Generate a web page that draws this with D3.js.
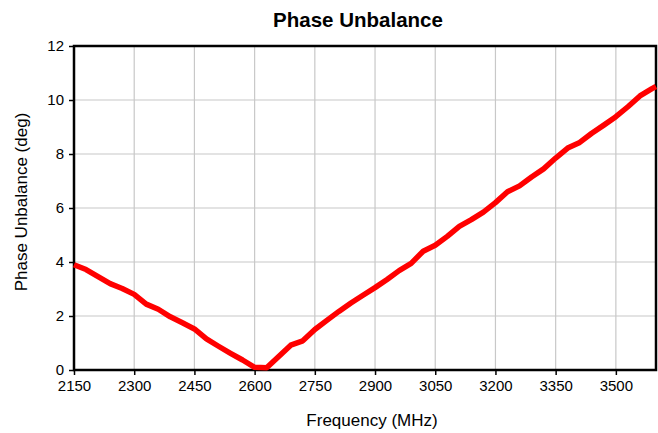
<!DOCTYPE html>
<html>
<head>
<meta charset="utf-8">
<script src="https://cdn.jsdelivr.net/npm/d3@7"></script>
<style>
  body { margin: 0; background: #fff; }
  svg { font-family: "Liberation Sans", Arial, sans-serif; }
</style>
</head>
<body>
<svg width="658" height="433"></svg>
<script>
var freqs = [2150, 2180, 2210, 2240, 2270, 2300, 2330, 2360, 2390, 2420,
             2450, 2480, 2510, 2540, 2570, 2600, 2630, 2660, 2690, 2720,
             2750, 2780, 2810, 2840, 2870, 2900, 2930, 2960, 2990, 3020,
             3050, 3080, 3110, 3140, 3170, 3200, 3230, 3260, 3290, 3320,
             3350, 3380, 3410, 3440, 3470, 3500, 3530, 3560, 3590, 3600];
var unbalance = [3.9, 3.72, 3.46, 3.2, 3.02, 2.8, 2.44, 2.25, 1.97, 1.75,
                 1.52, 1.15, 0.88, 0.62, 0.37, 0.1, 0.08, 0.5, 0.92, 1.08,
                 1.5, 1.84, 2.17, 2.48, 2.77, 3.05, 3.35, 3.68, 3.95, 4.4,
                 4.62, 4.95, 5.32, 5.57, 5.85, 6.2, 6.6, 6.82, 7.15, 7.45,
                 7.85, 8.22, 8.43, 8.77, 9.07, 9.38, 9.75, 10.15, 10.42, 10.5];
var xTicks = [2150, 2300, 2450, 2600, 2750, 2900, 3050, 3200, 3350, 3500];
var yTicks = [0, 2, 4, 6, 8, 10, 12];

var svg = d3.select("svg");
var plotLeft = 74, plotRight = 656, plotTop = 46, plotBottom = 370;

var x = d3.scaleLinear().domain([2150, 3600]).range([plotLeft, plotRight]);
var y = d3.scaleLinear().domain([0, 12]).range([plotBottom, plotTop]);

// grid
svg.append("g").selectAll("line").data(xTicks.slice(1)).enter().append("line")
    .attr("x1", function (d) { return x(d); })
    .attr("x2", function (d) { return x(d); })
    .attr("y1", plotTop).attr("y2", plotBottom)
    .attr("stroke", "#c8c8c8").attr("stroke-width", 1.2);
svg.append("g").selectAll("line").data(yTicks.slice(1)).enter().append("line")
    .attr("y1", function (d) { return y(d); })
    .attr("y2", function (d) { return y(d); })
    .attr("x1", plotLeft).attr("x2", plotRight)
    .attr("stroke", "#c8c8c8").attr("stroke-width", 1.2);

// axes
var xAxis = svg.append("g")
    .attr("transform", "translate(0," + plotBottom + ")")
    .call(d3.axisBottom(x).tickValues(xTicks).tickSize(5).tickPadding(5).tickFormat(d3.format("d")));
var yAxis = svg.append("g")
    .attr("transform", "translate(" + plotLeft + ",0)")
    .call(d3.axisLeft(y).tickValues(yTicks).tickSize(5).tickPadding(5));
[xAxis, yAxis].forEach(function (a) {
    a.select(".domain").remove();
    a.selectAll("line").attr("stroke", "#000").attr("stroke-width", 1.5);
    a.selectAll("text").attr("font-size", 15).attr("fill", "#000")
        .attr("font-family", "Liberation Sans, Arial, sans-serif");
});

// frame
svg.append("rect")
    .attr("x", plotLeft).attr("y", plotTop)
    .attr("width", plotRight - plotLeft).attr("height", plotBottom - plotTop)
    .attr("fill", "none").attr("stroke", "#000").attr("stroke-width", 2.5);

// line
var line = d3.line()
    .x(function (d, i) { return x(freqs[i]); })
    .y(function (d) { return y(d); });
svg.append("path")
    .datum(unbalance)
    .attr("d", line)
    .attr("fill", "none")
    .attr("stroke", "#ff0000")
    .attr("stroke-width", 5.5)
    .attr("stroke-linejoin", "round");

// titles
svg.append("text")
    .attr("x", 358).attr("y", 27)
    .attr("text-anchor", "middle")
    .attr("font-size", 20.5).attr("font-weight", "bold")
    .text("Phase Unbalance");
svg.append("text")
    .attr("x", 372).attr("y", 426)
    .attr("text-anchor", "middle")
    .attr("font-size", 17)
    .text("Frequency (MHz)");
svg.append("text")
    .attr("transform", "translate(27,202) rotate(-90)")
    .attr("text-anchor", "middle")
    .attr("font-size", 17)
    .text("Phase Unbalance (deg)");
</script>
</body>
</html>
